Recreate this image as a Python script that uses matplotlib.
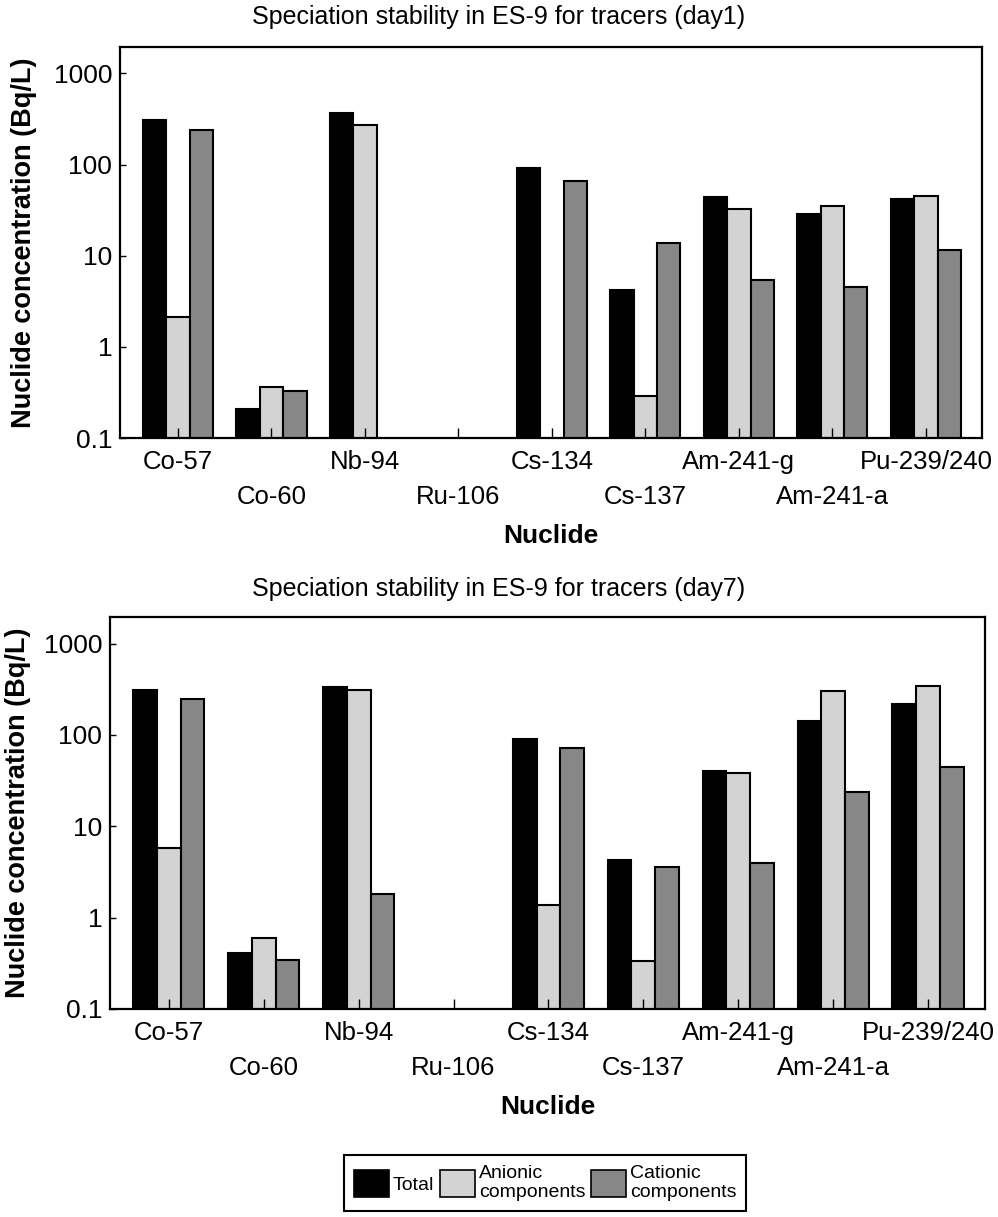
import numpy as np
import matplotlib
matplotlib.use('Agg')
import matplotlib.pyplot as plt
from matplotlib.patches import Patch

plt.rcParams['font.family'] = ['Liberation Sans', 'DejaVu Sans']

# dati (Bq/L), nan = non rilevato
nuclidi = ['Co-57', 'Co-60', 'Nb-94', 'Ru-106', 'Cs-134', 'Cs-137', 'Am-241-g', 'Am-241-a', 'Pu-239/240']

tot_day1 = [312, 0.21, 369, np.nan, 91.4, 4.25, 44, 28.9, 41.5]
anion_day1 = [2.13, 0.365, 275, np.nan, np.nan, 0.29, 32.8, 34.8, 45.5]
cation_day1 = [242, 0.327, np.nan, np.nan, 65.8, 13.7, 5.47, 4.54, 11.7]

tot_day7 = [308, 0.41, 332, np.nan, 90.2, 4.22, 40.3, 141, 220]
anion_day7 = [5.77, 0.596, 313, np.nan, 1.36, 0.336, 37.9, 300, 344]
cation_day7 = [248, 0.341, 1.81, np.nan, 71.3, 3.54, 3.95, 23.7, 44.9]

yticks = [0.1, 1, 10, 100, 1000]
ytick_labels = ['0.1', '1', '10', '100', '1000']

col_tot = 'black'
col_an = '#d3d3d3'
col_cat = '#878787'

W, H = 998, 1217
fig = plt.figure(figsize=(W / 100, H / 100), dpi=100)

ax1 = fig.add_axes([120 / W, (H - 438) / H, 862 / W, 391 / H])
ax2 = fig.add_axes([110 / W, (H - 1009) / H, 875 / W, 392 / H])


def disegna(ax, tot, an, cat, ylab_x):
    x = np.arange(len(nuclidi))
    w = 0.25
    ax.bar(x - w, tot, w, color=col_tot, edgecolor='black', linewidth=1.5)
    ax.bar(x, an, w, color=col_an, edgecolor='black', linewidth=1.5)
    ax.bar(x + w, cat, w, color=col_cat, edgecolor='black', linewidth=1.5)
    ax.set_yscale('log')
    ax.set_ylim(0.1, 1950)
    ax.set_xlim(-0.62, 8.6)
    ax.set_yticks(yticks)
    ax.set_yticklabels(ytick_labels)
    ax.yaxis.set_minor_locator(matplotlib.ticker.NullLocator())
    ax.set_xticks(x)
    ax.set_xticklabels(nuclidi)
    ax.tick_params(axis='x', direction='in', length=7, width=1, labelsize=18.5, pad=8.5)
    ax.tick_params(axis='y', direction='in', length=4, width=1, labelsize=19, pad=5.5)
    # etichette su due righe alternate: le dispari piu in basso
    for i, tk in enumerate(ax.xaxis.get_major_ticks()):
        if i % 2 == 1:
            tk.set_pad(33.5)
    for s in ax.spines.values():
        s.set_linewidth(1.6)
    ax.set_ylabel('Nuclide concentration (Bq/L)', fontsize=19.5, fontweight='bold')
    ax.yaxis.set_label_coords(ylab_x, 0.5)
    ax.set_xlabel('Nuclide', fontsize=19, fontweight='bold')
    ax.xaxis.set_label_coords(0.5, -0.25)
    ax.xaxis.label.set_va('center')
    ax.yaxis.label.set_va('center')


disegna(ax1, tot_day1, anion_day1, cation_day1, -0.111)
disegna(ax2, tot_day7, anion_day7, cation_day7, -0.105)

fig.text(0.5, 1 - 17 / H, 'Speciation stability in ES-9 for tracers (day1)', ha='center', va='center', fontsize=18)
fig.text(0.5, 1 - 589 / H, 'Speciation stability in ES-9 for tracers (day7)', ha='center', va='center', fontsize=18)

# legenda in basso
handles = [Patch(facecolor=col_tot, edgecolor='black', linewidth=1.2),
           Patch(facecolor=col_an, edgecolor='black', linewidth=1.2),
           Patch(facecolor=col_cat, edgecolor='black', linewidth=1.2)]
labels = ['Total', 'Anionic\ncomponents', 'Cationic\ncomponents']
leg = fig.legend(handles, labels, loc='center', bbox_to_anchor=(545 / W, 1 - 1183 / H), ncol=3,
                 fontsize=14, handlelength=1.8, handleheight=1.75, handletextpad=0.2,
                 columnspacing=0.3, fancybox=False, framealpha=1, edgecolor='black',
                 borderpad=0.5, labelspacing=0.2)
leg.get_frame().set_linewidth(1.5)

fig.savefig('out.png', dpi=100)
